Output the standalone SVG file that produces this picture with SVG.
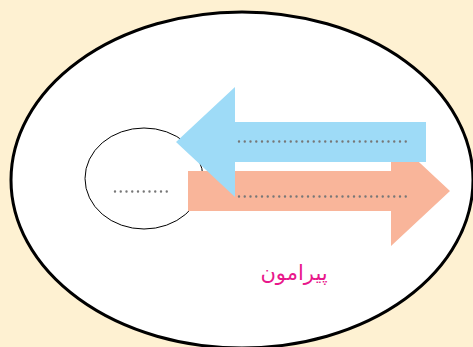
<svg xmlns="http://www.w3.org/2000/svg" width="473" height="347" viewBox="0 0 473 347">
<style>
.dots{fill:none;stroke:#777777;stroke-width:2.4;stroke-linecap:round;stroke-dasharray:0 5.75}
</style>
<rect x="0" y="0" width="473" height="347" fill="#fef1d2"/>
<g id="outer">
<ellipse cx="242" cy="180" rx="231" ry="168" fill="#ffffff" stroke="#000000" stroke-width="3"/>
</g>
<g id="inner">
<ellipse cx="144" cy="178.5" rx="59" ry="50.5" fill="#ffffff" stroke="#000000" stroke-width="1"/>
<line class="dots" x1="115" y1="191.5" x2="172" y2="191.5"/>
</g>
<g id="connectors">
<g id="arrow-right">
<polygon points="188,171 391,171 391,136 450,191 391,246 391,211 188,211" fill="#f9b59a"/>
<line class="dots" x1="239" y1="196.5" x2="406" y2="196.5"/>
</g>
<g id="arrow-left">
<polygon points="176,142 235,87 235,122 426,122 426,162 235,162 235,197" fill="#9edbf7"/>
<line class="dots" x1="239" y1="141.5" x2="406" y2="141.5"/>
</g>
</g>
<g id="label">
<text x="294" y="280" text-anchor="middle" font-family="DejaVu Sans, sans-serif" font-size="21" fill="#e8178b">پیرامون</text>
</g>
</svg>
